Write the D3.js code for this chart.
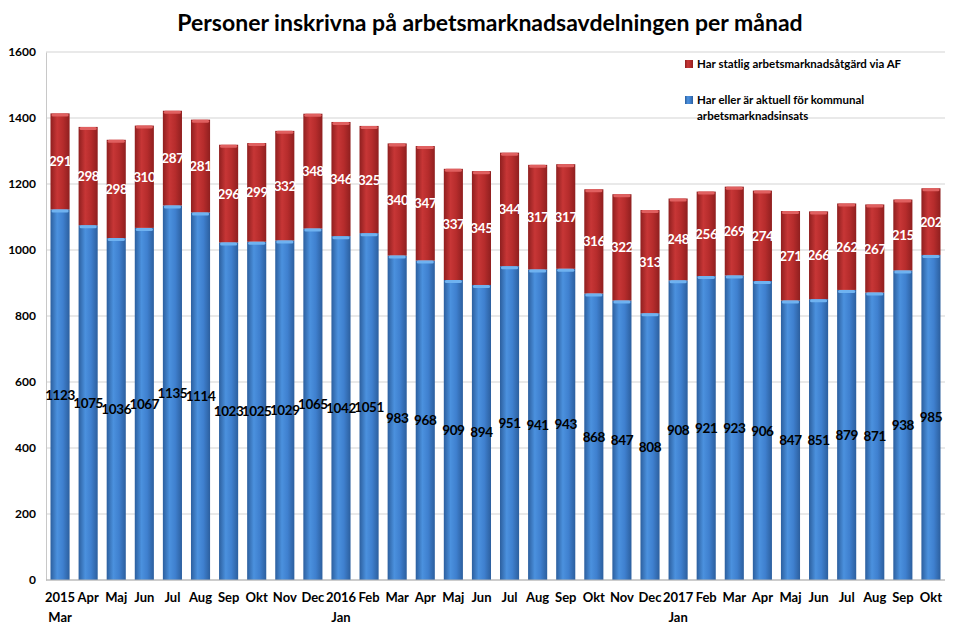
<!DOCTYPE html>
<html>
<head>
<meta charset="utf-8">
<script src="https://cdn.jsdelivr.net/npm/d3@7"></script>
<style>
  body { margin: 0; background: #fff; }
  svg { font-family: Lato, "Liberation Sans", sans-serif; }
</style>
</head>
<body>
<div id="chart"></div>
<script>
// months, with the year shown over the first month of each year
var months = ["Mar", "Apr", "Maj", "Jun", "Jul", "Aug", "Sep", "Okt", "Nov", "Dec",
              "Jan", "Feb", "Mar", "Apr", "Maj", "Jun", "Jul", "Aug", "Sep", "Okt", "Nov", "Dec",
              "Jan", "Feb", "Mar", "Apr", "Maj", "Jun", "Jul", "Aug", "Sep", "Okt"];
var years = { 0: "2015", 10: "2016", 22: "2017" };

var kommunal = [1123, 1075, 1036, 1067, 1135, 1114, 1023, 1025, 1029, 1065,
                1042, 1051, 983, 968, 909, 894, 951, 941, 943, 868, 847, 808,
                908, 921, 923, 906, 847, 851, 879, 871, 938, 985];
var statlig = [291, 298, 298, 310, 287, 281, 296, 299, 332, 348,
               346, 325, 340, 347, 337, 345, 344, 317, 317, 316, 322, 313,
               248, 256, 269, 274, 271, 266, 262, 267, 215, 202];

var yTicks = [0, 200, 400, 600, 800, 1000, 1200, 1400, 1600];
var seriesNames = ["Har statlig arbetsmarknadsåtgärd via AF",
                   "Har eller är aktuell för kommunal arbetsmarknadsinsats"];

var width = 969, height = 632;
var margin = { top: 52, right: 24, bottom: 52, left: 46 };

var svg = d3.select("#chart").append("svg")
    .attr("width", width)
    .attr("height", height);

var defs = svg.append("defs");
function barGradient(id, edge, mid, light) {
    var g = defs.append("linearGradient").attr("id", id)
        .attr("x1", "0%").attr("x2", "100%").attr("y1", "0%").attr("y2", "0%");
    g.append("stop").attr("offset", "0%").attr("stop-color", edge);
    g.append("stop").attr("offset", "35%").attr("stop-color", light);
    g.append("stop").attr("offset", "65%").attr("stop-color", mid);
    g.append("stop").attr("offset", "100%").attr("stop-color", edge);
}
barGradient("gBlue", "#2c5f9e", "#3f80cf", "#4b91de");
barGradient("gRed", "#8f1f1f", "#b62c2c", "#c73636");

var idx = d3.range(months.length);

var x = d3.scaleBand()
    .domain(idx)
    .range([margin.left, width - margin.right])
    .paddingInner(0.32)
    .paddingOuter(0.16);

var y = d3.scaleLinear()
    .domain([0, 1600])
    .range([height - margin.bottom, margin.top]);

// grid lines
svg.append("g")
    .selectAll("line")
    .data(yTicks)
    .enter()
    .append("line")
    .attr("x1", margin.left)
    .attr("x2", width - margin.right)
    .attr("y1", function(d) { return y(d); })
    .attr("y2", function(d) { return y(d); })
    .attr("stroke", "#d4d4d4")
    .attr("stroke-width", 1.2);

// y axis
var yAxis = svg.append("g")
    .attr("transform", "translate(" + margin.left + ",0)")
    .call(d3.axisLeft(y).tickValues(yTicks).tickFormat(d3.format("d")).tickSize(0).tickPadding(10));
yAxis.select(".domain").attr("stroke", "#c8c8c8");
yAxis.selectAll("text")
    .attr("font-size", 12)
    .attr("font-weight", "bold")
    .attr("fill", "#000")
    .style("font-family", "Lato, sans-serif");

// legend background (covers grid lines like in the original)
var legend = svg.append("g");
legend.append("rect")
    .attr("x", 676).attr("y", y(1590))
    .attr("width", 266).attr("height", y(1410) - y(1590))
    .attr("fill", "#fff");

// stacked bars
var bars = svg.append("g");
idx.forEach(function(i) {
    var bx = x(i), bw = x.bandwidth();
    var base = kommunal[i], total = kommunal[i] + statlig[i];
    bars.append("rect")
        .attr("x", bx).attr("width", bw)
        .attr("y", y(base)).attr("height", y(0) - y(base))
        .attr("fill", "url(#gBlue)");
    bars.append("rect")
        .attr("x", bx).attr("width", bw)
        .attr("y", y(total)).attr("height", y(base) - y(total))
        .attr("fill", "url(#gRed)");
    // light caps on top of each segment
    bars.append("rect")
        .attr("x", bx + 1).attr("width", bw - 2)
        .attr("y", y(base)).attr("height", 3)
        .attr("rx", 1.5)
        .attr("fill", "#6fb2f0");
    bars.append("rect")
        .attr("x", bx + 1).attr("width", bw - 2)
        .attr("y", y(total)).attr("height", 3)
        .attr("rx", 1.5)
        .attr("fill", "#e06060");
});

// value labels
var labels = svg.append("g")
    .attr("font-size", 13.5)
    .attr("font-weight", "bold")
    .attr("letter-spacing", -0.4)
    .attr("text-anchor", "middle");

labels.selectAll("text.k")
    .data(kommunal)
    .enter()
    .append("text")
    .attr("class", "k")
    .attr("x", function(d, i) { return x(i) + x.bandwidth() / 2; })
    .attr("y", function(d) { return (y(0) + y(d)) / 2 + 5; })
    .attr("fill", "#000")
    .text(function(d) { return d; });

labels.selectAll("text.s")
    .data(statlig)
    .enter()
    .append("text")
    .attr("class", "s")
    .attr("x", function(d, i) { return x(i) + x.bandwidth() / 2; })
    .attr("y", function(d, i) { return (y(kommunal[i]) + y(kommunal[i] + d)) / 2 + 5; })
    .attr("fill", "#fff")
    .text(function(d) { return d; });

// x axis line
svg.append("line")
    .attr("x1", margin.left).attr("x2", width - margin.right)
    .attr("y1", y(0)).attr("y2", y(0))
    .attr("stroke", "#b0b0b0");

// x labels (year above month at year starts)
var xl = svg.append("g")
    .attr("font-size", 13)
    .attr("font-weight", "bold")
    .attr("text-anchor", "middle");
idx.forEach(function(i) {
    var cx = x(i) + x.bandwidth() / 2;
    if (years[i]) {
        xl.append("text").attr("x", cx).attr("y", 602).text(years[i]);
        xl.append("text").attr("x", cx).attr("y", 622).text(months[i]);
    } else {
        xl.append("text").attr("x", cx).attr("y", 602).text(months[i]);
    }
});

// legend
var ly = [68, 104];
var lcol = ["url(#gRed)", "url(#gBlue)"];
legend.selectAll("rect.sw")
    .data(seriesNames)
    .enter()
    .append("rect")
    .attr("class", "sw")
    .attr("x", 685)
    .attr("y", function(d, i) { return ly[i] - 8; })
    .attr("width", 8).attr("height", 8)
    .attr("fill", function(d, i) { return lcol[i]; });
legend.append("text")
    .attr("x", 697).attr("y", ly[0])
    .attr("font-size", 11.5).attr("font-weight", "bold")
    .text(seriesNames[0]);
legend.append("text")
    .attr("x", 697).attr("y", ly[1])
    .attr("font-size", 11.5).attr("font-weight", "bold")
    .text("Har eller är aktuell för kommunal");
legend.append("text")
    .attr("x", 697).attr("y", ly[1] + 16)
    .attr("font-size", 11.5).attr("font-weight", "bold")
    .text("arbetsmarknadsinsats");

// title
svg.append("text")
    .attr("x", 490).attr("y", 31)
    .attr("text-anchor", "middle")
    .attr("font-size", 23)
    .attr("font-weight", "bold")
    .text("Personer inskrivna på arbetsmarknadsavdelningen per månad");
</script>
</body>
</html>
